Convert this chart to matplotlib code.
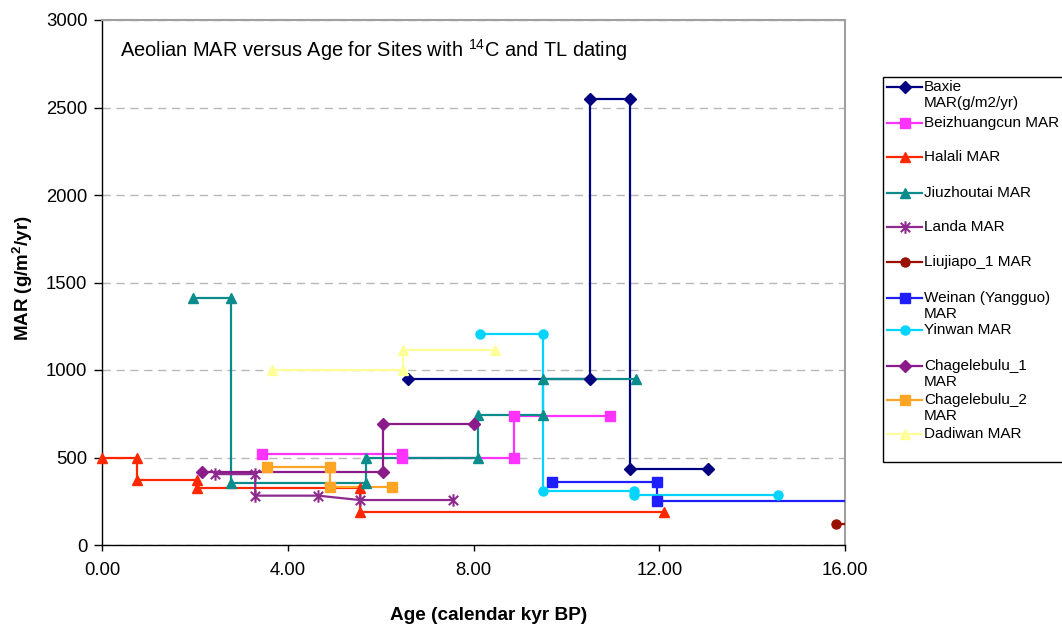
import numpy as np
import matplotlib
matplotlib.use("Agg")
import matplotlib.pyplot as plt
from matplotlib.path import Path
from matplotlib.lines import Line2D
from matplotlib.patches import Rectangle

plt.rcParams['font.family'] = ['Liberation Sans', 'DejaVu Sans']
plt.rcParams['mathtext.default'] = 'regular'

# series data: age (kyr BP) and MAR (g/m2/yr), step-like profiles
baxie_x = [6.6, 10.5, 10.5, 11.37, 11.37, 13.05]
baxie_y = [950, 950, 2550, 2550, 437, 437]
beiz_x = [3.45, 6.47, 6.47, 8.88, 8.88, 10.95]
beiz_y = [520, 520, 500, 500, 737, 737]
halali_x = [0.0, 0.75, 0.75, 2.05, 2.05, 5.55, 5.55, 12.1]
halali_y = [500, 500, 370, 370, 325, 325, 190, 190]
jiu_x = [1.95, 2.78, 2.78, 5.68, 5.68, 8.1, 8.1, 9.5, 9.5, 11.5]
jiu_y = [1410, 1410, 352, 352, 495, 495, 742, 742, 950, 950]
landa_x = [2.43, 3.3, 3.3, 4.65, 5.55, 7.55]
landa_y = [405, 405, 282, 282, 257, 257]
liuj_x = [15.8, 20.0]
liuj_y = [120, 120]
weinan_x = [9.68, 11.95, 11.95, 20.0]
weinan_y = [362, 362, 250, 250]
yinwan_x = [8.15, 9.5, 9.5, 11.45, 11.45, 14.55]
yinwan_y = [1205, 1205, 307, 307, 285, 285]
chag1_x = [2.15, 6.05, 6.05, 8.0]
chag1_y = [415, 415, 693, 693]
chag2_x = [3.55, 4.9, 4.9, 6.25]
chag2_y = [446, 446, 330, 330]
dadi_x = [3.67, 6.48, 6.48, 8.47]
dadi_y = [1000, 1000, 1115, 1115]

labels = ['Baxie\nMAR(g/m2/yr)', 'Beizhuangcun MAR', 'Halali MAR', 'Jiuzhoutai MAR',
          'Landa MAR', 'Liujiapo_1 MAR', 'Weinan (Yangguo)\nMAR', 'Yinwan MAR',
          'Chagelebulu_1\nMAR', 'Chagelebulu_2\nMAR', 'Dadiwan MAR']
colors = ['#000080', '#FF33FF', '#FF2800', '#0A8C8C', '#8E2A8E', '#9A1000',
          '#1E1EFF', '#00D4FF', '#8B1A8B', '#FFA526', '#FFFF99']

star = Path([(0, -1), (0, 1), (-0.75, -0.75), (0.75, 0.75), (-0.75, 0.75), (0.75, -0.75)],
            [Path.MOVETO, Path.LINETO, Path.MOVETO, Path.LINETO, Path.MOVETO, Path.LINETO])
markers = ['D', 's', '^', '^', star, 'o', 's', 'o', 'D', 's', '^']
msizes = [6, 6.5, 7.5, 7.5, 9, 6.5, 6.5, 6.5, 6, 6.5, 7.5]

series = [(baxie_x, baxie_y), (beiz_x, beiz_y), (halali_x, halali_y), (jiu_x, jiu_y),
          (landa_x, landa_y), (liuj_x, liuj_y), (weinan_x, weinan_y), (yinwan_x, yinwan_y),
          (chag1_x, chag1_y), (chag2_x, chag2_y), (dadi_x, dadi_y)]

W, H = 1062, 625
fig = plt.figure(figsize=(W / 100, H / 100), dpi=100)
ax = fig.add_axes([102 / W, (H - 545) / H, 743 / W, 525 / H])

xmax = 16
for (x, y), c, m, ms in zip(series, colors, markers, msizes):
    x = np.array(x)
    y = np.array(y)
    ax.plot(x, y, color=c, lw=1.6, zorder=3)
    inside = x <= xmax
    if m is star:
        ax.plot(x[inside], y[inside], ls='none', marker=m, ms=ms, mec=c, mew=1.5,
                fillstyle='none', clip_on=False, zorder=4)
    else:
        ax.plot(x[inside], y[inside], ls='none', marker=m, ms=ms, color=c, mec=c,
                clip_on=False, zorder=4)

ax.set_xlim(0, 16)
ax.set_ylim(0, 3000)
ax.set_xticks([0, 4, 8, 12, 16])
ax.set_xticklabels(['%.2f' % v for v in [0, 4, 8, 12, 16]])
ax.set_yticks(np.arange(0, 3001, 500))
ax.tick_params(axis='both', direction='out', width=1, labelsize=13.3)
ax.tick_params(axis='x', length=4, pad=8)
ax.tick_params(axis='y', length=6, pad=4.5)
ax.yaxis.grid(True, ls=(0, (6, 4)), color='#B8B8B8', lw=1)
ax.set_axisbelow(True)
for s in ['top', 'right']:
    ax.spines[s].set_color('#A0A0A0')
    ax.spines[s].set_linewidth(1.5)
for s in ['left', 'bottom']:
    ax.spines[s].set_color('black')
    ax.spines[s].set_linewidth(1)

ax.text(0.024, 0.943, 'Aeolian MAR versus Age for Sites with $^{14}$C and TL dating',
        transform=ax.transAxes, fontsize=14.4, va='center', ha='left')

fig.text(23 / W, 1 - 278 / H, 'MAR (g/m$^{2}$/yr)', rotation=90, fontsize=13.5,
         fontweight='bold', ha='center', va='center')
fig.text(489 / W, 1 - 615 / H, 'Age (calendar kyr BP)', fontsize=13.7,
         fontweight='bold', ha='center', va='center')

# legend box, drawn by hand to copy the wrapped labels
fig.add_artist(Rectangle((883 / W, 1 - 462 / H), 200 / W, 385 / H, transform=fig.transFigure,
                         fill=False, ec='black', lw=1))
ly = [87, 123, 157, 193, 227, 262, 298, 330, 366, 400, 434]
for yy, lab, c, m, ms in zip(ly, labels, colors, markers, msizes):
    fy = 1 - yy / H
    fig.add_artist(Line2D([887 / W, 922 / W], [fy, fy], transform=fig.transFigure,
                          color=c, lw=1.6))
    if m is star:
        fig.add_artist(Line2D([904.5 / W], [fy], transform=fig.transFigure, ls='none',
                              marker=m, ms=ms, mec=c, mew=1.5, fillstyle='none'))
    else:
        fig.add_artist(Line2D([904.5 / W], [fy], transform=fig.transFigure, ls='none',
                              marker=m, ms=ms, color=c, mec=c))
    for i, part in enumerate(lab.split('\n')):
        fig.text(924 / W, 1 - (yy + 16 * i) / H, part, fontsize=11, va='center', ha='left')

fig.savefig('out.png', dpi=100)
